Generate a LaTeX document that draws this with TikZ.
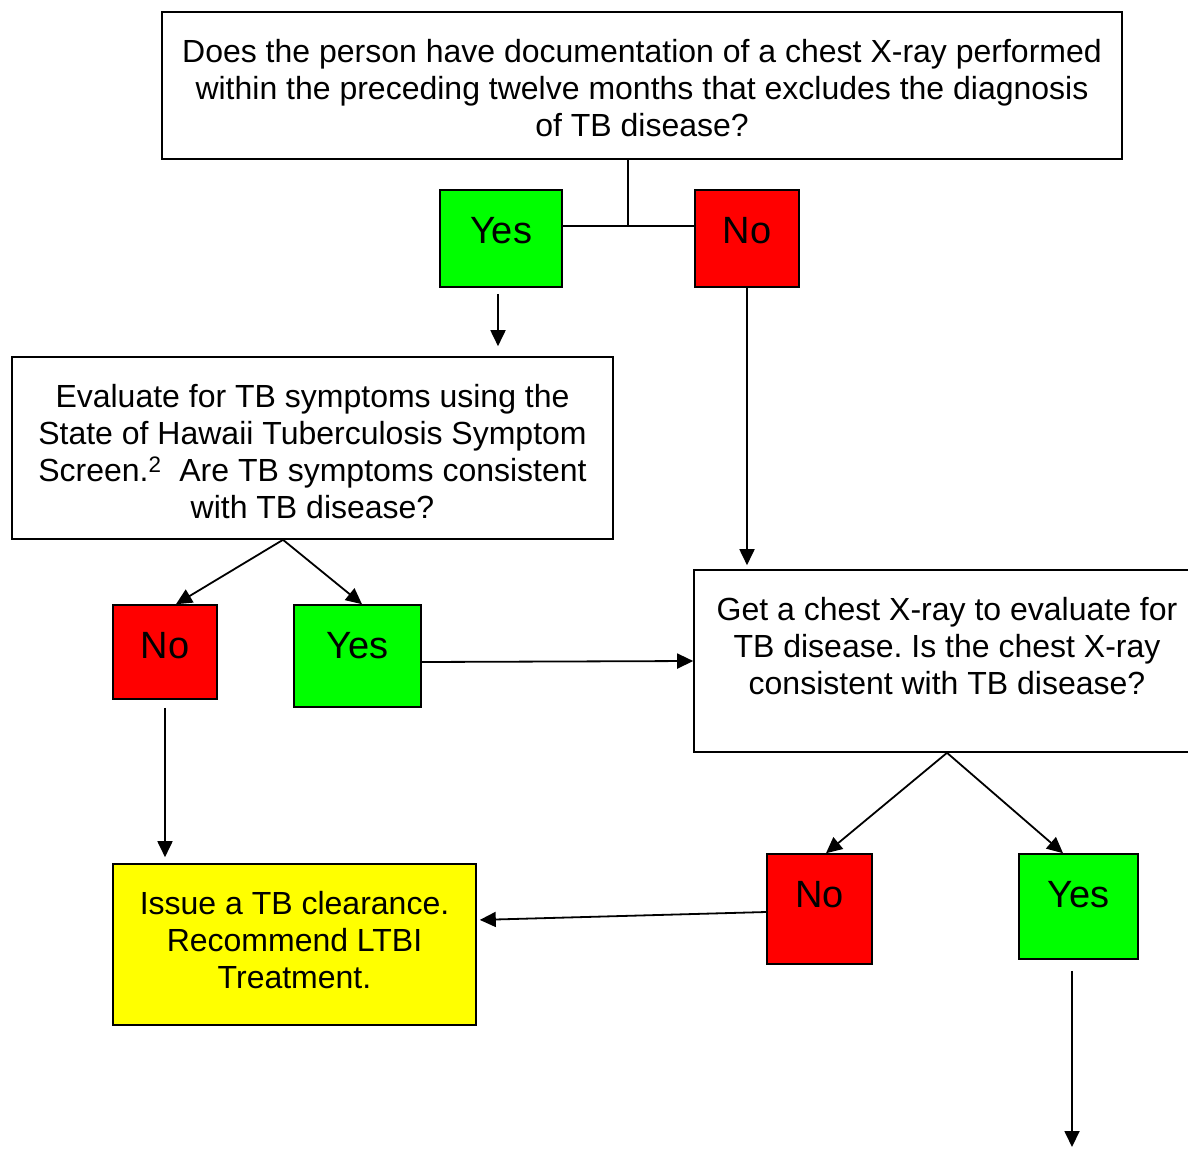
\documentclass[tikz,border=0pt]{standalone}
\usepackage{fontspec}
\setmainfont{Liberation Sans}
\usetikzlibrary{arrows.meta}
\definecolor{bgreen}{RGB}{0,255,0}
\definecolor{bred}{RGB}{255,0,0}
\definecolor{byellow}{RGB}{255,255,0}
\frenchspacing
\begin{document}
\begin{tikzpicture}[x=1pt,y=-1pt,
  box/.style={draw=black, line width=1.6pt, rectangle, inner sep=0pt},
  txt/.style={inner sep=0pt, anchor=north, align=center, font=\fontsize{32}{37}\selectfont},
  yn/.style={inner sep=0pt, anchor=north, font=\fontsize{38}{44}\selectfont, yshift=-28pt},
  conn/.style={line width=1.8pt},
  arr/.style={line width=1.8pt, -{Triangle[length=16pt,width=15pt]}}]
\clip (0,0) rectangle (1188,1148);
\fill[white] (0,0) rectangle (1188,1148);

% boxes
\node[box, minimum width=960pt, minimum height=147pt,
  label={[txt, yshift=-28pt]north:Does the person have documentation of a chest X-ray performed\\within the preceding twelve months that excludes the diagnosis\\of TB disease?}] (q1) at (642,85.5) {};
\node[box, fill=bgreen, minimum width=122pt, minimum height=97pt, label={[yn]north:Yes}] (y1) at (501,238.5) {};
\node[box, fill=bred, minimum width=104pt, minimum height=97pt, label={[yn]north:No}] (n1) at (747,238.5) {};
\node[box, minimum width=601pt, minimum height=182pt,
  label={[txt, yshift=-28pt]north:Evaluate for TB symptoms using the\\State of Hawaii Tuberculosis Symptom\\Screen.\textsuperscript{2}\ \ Are TB symptoms consistent\\with TB disease?}] (ev) at (312.5,448) {};
\node[box, fill=bred, minimum width=104pt, minimum height=94pt, label={[yn]north:No}] (n2) at (165,652) {};
\node[box, fill=bgreen, minimum width=127pt, minimum height=102pt, label={[yn]north:Yes}] (y2) at (357.5,656) {};
\node[box, minimum width=506pt, minimum height=182pt,
  label={[txt, yshift=-28pt]north:Get a chest X-ray to evaluate for\\TB disease. Is the chest X-ray\\consistent with TB disease?}] (cx) at (947,661) {};
\node[box, fill=byellow, minimum width=363pt, minimum height=161pt,
  label={[txt, yshift=-28pt]north:Issue a TB clearance.\\Recommend LTBI\\Treatment.}] (yl) at (294.5,944.5) {};
\node[box, fill=bred, minimum width=105pt, minimum height=110pt, label={[yn]north:No}] (n3) at (819.5,909) {};
\node[box, fill=bgreen, minimum width=119pt, minimum height=105pt, label={[yn]north:Yes}] (y3) at (1078.5,906.5) {};

% helper coordinates
\coordinate (j) at (628,226);
\coordinate (a1) at ([xshift=-3pt]y1.south);
\coordinate (ev1) at ([xshift=-29.5pt]ev.south);
\coordinate (n2t) at ([xshift=11pt]n2.north);
\coordinate (y2t) at ([xshift=4.5pt]y2.north);
\coordinate (y2s) at ([yshift=-6pt]y2.east);
\coordinate (n3t) at ([xshift=6.5pt]n3.north);
\coordinate (y3t) at ([xshift=-15.5pt]y3.north);
\coordinate (n3s) at ([yshift=-3pt]n3.west);
\coordinate (ylt) at ([yshift=24.5pt]yl.east);
\coordinate (y3s) at ([xshift=-6.5pt]y3.south);
\coordinate (bend) at (1072,1147);

% connectors
\draw[conn] (q1.south -| j) -- (j);
\draw[conn] (y1.east |- j) -- (n1.west |- j);
\draw[arr, shorten <=6pt, shorten >=10pt] (a1) -- (a1 |- ev.north);
\draw[arr, shorten >=4pt] (n1.south) -- (n1.south |- cx.north);
\draw[arr] (ev1) -- (n2t);
\draw[arr] (ev1) -- (y2t);
\draw[arr, shorten <=8pt, shorten >=6pt] (n2.south) -- (n2.south |- yl.north);
\draw[arr] (y2s) -- (cx.west);
\draw[arr] (cx.south) -- (n3t);
\draw[arr] (cx.south) -- (y3t);
\draw[arr, shorten >=3pt] (n3s) -- (ylt);
\draw[arr, shorten <=11pt] (y3s) -- (bend);
\end{tikzpicture}
\end{document}
